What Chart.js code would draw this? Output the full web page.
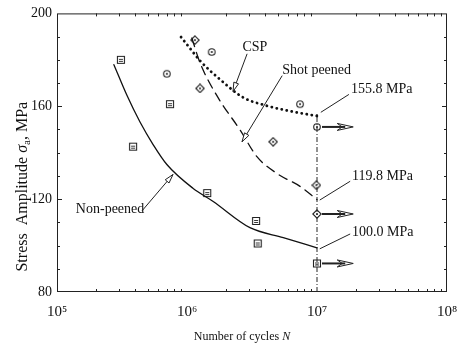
<!DOCTYPE html>
<html>
<head>
<meta charset="utf-8">
<script src="https://cdn.jsdelivr.net/npm/chart.js@4/dist/chart.umd.min.js"></script>
<style>
  html, body { margin: 0; padding: 0; background: #fff; }
</style>
</head>
<body>
<canvas id="chart" width="469" height="349"></canvas>
<script>
// axis ticks
const xMajor = [1e5, 1e6, 1e7, 1e8];
const xMajorLabels = ['10⁵', '10⁶', '10⁷', '10⁸'];
const yMajor = [80, 120, 160, 200];

// fitted S-N curves
const cspN = [9.0e5, 1.05e6, 1.26e6, 1.8e6, 2.7e6, 4.0e6, 6.2e6, 1.0e7];
const cspS = [189.8, 185.1, 179.6, 171.5, 163.8, 160.4, 157.9, 155.8];
const shotN = [1.09e6, 1.26e6, 1.73e6, 2.56e6, 3.45e6, 4.9e6, 7.4e6, 1.0e7];
const shotS = [189.4, 178.7, 163.8, 149.8, 138.3, 131.1, 125.5, 119.8];
const nonN = [2.74e5, 3.45e5, 4.35e5, 5.5e5, 7.0e5, 1.11e6, 1.58e6, 3.05e6, 5.5e6, 1.0e7];
const nonS = [177.9, 164.7, 153.2, 143.4, 134.9, 124.7, 119.1, 107.7, 103.4, 99.0];

// test points
const nonPtN = [3.1e5, 3.85e5, 7.4e5, 1.43e6, 3.4e6, 3.5e6];
const nonPtS = [180.0, 142.6, 160.9, 122.6, 110.6, 100.9];
const cspPtN = [7.0e5, 1.55e6, 7.4e6];
const cspPtS = [174.0, 183.4, 160.9];
const shotPtN = [1.15e6, 1.26e6, 4.6e6, 9.9e6];
const shotPtS = [188.5, 167.7, 144.7, 126.0];

// run-outs (no failure) at the fatigue limit line
const runoutN = [1e7, 1e7, 1e7];
const runoutS = [151.1, 113.6, 92.3];
const runoutStyle = ['circle', 'diamond', 'square'];
const arrowEndN = 1.9e7;
const limitN = 1e7;
const limitTop = 157.5;

// labels with leader lines: text position, leader start, leader end
const noteText = ['CSP', 'Shot peened', '155.8 MPa', '119.8 MPa', '100.0 MPa', 'Non-peened'];
const noteAt = [[3.33e6, 185.5], [5.4e6, 175.3], [1.83e7, 167.2], [1.86e7, 129.8], [1.86e7, 105.5], [2.56e5, 115.7]];
const noteAlign = ['center', 'left', 'left', 'left', 'left', 'center'];
const leadFrom = [[2.9e6, 182.6], [5.4e6, 173.2], [1.76e7, 165.1], [1.8e7, 127.7], [1.8e7, 105.0], [4.5e5, 114.9]];
const leadTo = [[2.26e6, 166.4], [2.65e6, 144.7], [1.07e7, 157.4], [1.05e7, 119.6], [1.05e7, 98.6], [7.8e5, 130.6]];
const leadArrow = [true, true, false, false, false, true];

const FONT = '"Liberation Serif", "Times New Roman", serif';

function pts(xs, ys) { return xs.map((v, i) => ({ x: v, y: ys[i] })); }

function marker(kind) {
  const c = document.createElement('canvas');
  c.width = 10; c.height = 10;
  const g = c.getContext('2d');
  g.fillStyle = '#fff';
  g.strokeStyle = '#222';
  g.lineWidth = 1.1;
  g.beginPath();
  if (kind === 'circle') {
    g.arc(5, 5, 3.3, 0, Math.PI * 2);
  } else if (kind === 'diamond') {
    g.moveTo(5, 0.8); g.lineTo(9.2, 5); g.lineTo(5, 9.2); g.lineTo(0.8, 5); g.closePath();
  } else {
    g.rect(1.5, 1.5, 7, 7);
  }
  g.fill(); g.stroke();
  g.fillStyle = '#222';
  if (kind === 'square') {
    g.fillRect(3, 4, 4, 0.9);
    g.fillRect(3, 6, 4, 0.9);
  } else {
    g.beginPath(); g.arc(5, 5, 1, 0, Math.PI * 2); g.fill();
  }
  return c;
}

const markers = { circle: marker('circle'), diamond: marker('diamond'), square: marker('square') };

function arrowHead(ctx, x0, y0, x1, y1, len, half) {
  const a = Math.atan2(y1 - y0, x1 - x0);
  const bx = x1 - len * Math.cos(a), by = y1 - len * Math.sin(a);
  const nx = -Math.sin(a) * half, ny = Math.cos(a) * half;
  ctx.beginPath();
  ctx.moveTo(x1, y1);
  ctx.lineTo(bx + nx, by + ny);
  ctx.lineTo(bx - nx, by - ny);
  ctx.closePath();
  ctx.fillStyle = '#fff';
  ctx.fill();
  ctx.stroke();
}

const decor = {
  id: 'decor',
  afterDatasetsDraw(chart) {
    const { ctx, chartArea: a, scales: { x, y } } = chart;
    ctx.save();
    ctx.strokeStyle = '#222';
    ctx.lineWidth = 1;
    // frame
    ctx.strokeRect(a.left + 0.5, a.top + 0.5, a.right - a.left - 1, a.bottom - a.top - 1);
    // inward ticks
    ctx.beginPath();
    for (let e = 5; e < 8; e++) {
      for (let m = 2; m < 10; m++) {
        const px = Math.round(x.getPixelForValue(m * Math.pow(10, e))) + 0.5;
        ctx.moveTo(px, a.bottom); ctx.lineTo(px, a.bottom - 3);
        ctx.moveTo(px, a.top); ctx.lineTo(px, a.top + 3);
      }
    }
    for (let v = 90; v < 200; v += 10) {
      const py = Math.round(y.getPixelForValue(v)) + 0.5;
      const len = yMajor.includes(v) ? 5 : 3;
      ctx.moveTo(a.left, py); ctx.lineTo(a.left + len, py);
      ctx.moveTo(a.right, py); ctx.lineTo(a.right - len, py);
    }
    ctx.stroke();

    // run-out arrows
    runoutN.forEach((n, i) => {
      const x0 = x.getPixelForValue(n) + 5;
      const x1 = x.getPixelForValue(arrowEndN);
      const py = y.getPixelForValue(runoutS[i]);
      ctx.lineWidth = 2;
      ctx.beginPath(); ctx.moveTo(x0, py); ctx.lineTo(x1 - 8, py); ctx.stroke();
      ctx.lineWidth = 1;
      ctx.beginPath();
      ctx.moveTo(x1 - 16, py - 3.5); ctx.lineTo(x1, py); ctx.lineTo(x1 - 16, py + 3.5);
      ctx.lineTo(x1 - 11, py); ctx.closePath();
      ctx.stroke();
    });

    // labels and leader lines
    ctx.font = '14px ' + FONT;
    ctx.textBaseline = 'middle';
    noteText.forEach((t, i) => {
      ctx.textAlign = noteAlign[i];
      ctx.fillStyle = '#111';
      ctx.fillText(t, x.getPixelForValue(noteAt[i][0]), y.getPixelForValue(noteAt[i][1]));
      const fx = x.getPixelForValue(leadFrom[i][0]), fy = y.getPixelForValue(leadFrom[i][1]);
      const tx = x.getPixelForValue(leadTo[i][0]), ty = y.getPixelForValue(leadTo[i][1]);
      ctx.lineWidth = 1;
      ctx.beginPath(); ctx.moveTo(fx, fy); ctx.lineTo(tx, ty); ctx.stroke();
      if (leadArrow[i]) arrowHead(ctx, fx, fy, tx, ty, 9, 2.5);
    });

    // axis titles
    ctx.fillStyle = '#111';
    ctx.textAlign = 'left';
    ctx.textBaseline = 'middle';
    // x title, with italic N
    const xa = 'Number of cycles ';
    ctx.font = '12px ' + FONT;
    const wa = ctx.measureText(xa).width;
    ctx.font = 'italic 12px ' + FONT;
    const wb = ctx.measureText('N').width;
    const xStart = (a.left + a.right) / 2 - 10 - (wa + wb) / 2;
    ctx.font = '12px ' + FONT;
    ctx.fillText(xa, xStart, 337);
    ctx.font = 'italic 12px ' + FONT;
    ctx.fillText('N', xStart + wa, 337);
    // y title, rotated
    ctx.save();
    ctx.translate(23, (a.top + a.bottom) / 2 + 34);
    ctx.rotate(-Math.PI / 2);
    const p1 = 'Stress  Amplitude ', p3 = ', MPa';
    ctx.font = '16px ' + FONT;
    const w1 = ctx.measureText(p1).width, w3 = ctx.measureText(p3).width;
    ctx.font = 'italic 16px ' + FONT;
    const w2 = ctx.measureText('σ').width;
    ctx.font = '11px ' + FONT;
    const w2b = ctx.measureText('a').width;
    let cx = -(w1 + w2 + w2b + w3) / 2;
    ctx.font = '16px ' + FONT; ctx.fillText(p1, cx, 0); cx += w1;
    ctx.font = 'italic 16px ' + FONT; ctx.fillText('σ', cx, 0); cx += w2;
    ctx.font = '11px ' + FONT; ctx.fillText('a', cx, 4); cx += w2b;
    ctx.font = '16px ' + FONT; ctx.fillText(p3, cx, 0);
    ctx.restore();

    ctx.restore();
  }
};

function pointSet(xs, ys, kind) {
  return {
    data: pts(xs, ys), showLine: false,
    pointStyle: markers[kind], pointRadius: 5, pointHoverRadius: 5
  };
}

function curve(xs, ys, dash, width) {
  return {
    data: pts(xs, ys), showLine: true, pointRadius: 0,
    borderColor: '#111', borderWidth: width, borderDash: dash,
    borderCapStyle: 'round', cubicInterpolationMode: 'monotone', fill: false
  };
}

new Chart(document.getElementById('chart'), {
  type: 'scatter',
  data: {
    datasets: [
      curve(nonN, nonS, [], 1.3),
      curve(shotN, shotS, [9, 6], 1.3),
      curve(cspN, cspS, [0.1, 5], 2.8),
      {
        data: [{ x: limitN, y: 80 }, { x: limitN, y: limitTop }], showLine: true, pointRadius: 0,
        borderColor: '#222', borderWidth: 1, borderDash: [5, 2, 1, 2]
      },
      pointSet(nonPtN, nonPtS, 'square'),
      pointSet(cspPtN, cspPtS, 'circle'),
      pointSet(shotPtN, shotPtS, 'diamond'),
      {
        data: pts(runoutN, runoutS), showLine: false, pointRadius: 5,
        pointStyle: runoutStyle.map(k => markers[k])
      }
    ]
  },
  options: {
    responsive: false,
    animation: false,
    devicePixelRatio: 1,
    layout: { padding: { left: 0, right: 22, top: 10, bottom: 0 } },
    plugins: { legend: { display: false }, tooltip: { enabled: false } },
    scales: {
      x: {
        type: 'logarithmic', min: 1e5, max: 1e8,
        grid: { display: false, drawTicks: false },
        border: { display: false },
        afterFit: s => { s.height = 57; },
        afterBuildTicks: s => { s.ticks = xMajor.map(v => ({ value: v })); },
        ticks: {
          autoSkip: false, maxRotation: 0, padding: 11, color: '#111',
          font: { family: FONT, size: 15 },
          callback: v => { const i = xMajor.indexOf(v); return i < 0 ? '' : xMajorLabels[i]; }
        }
      },
      y: {
        min: 80, max: 200,
        grid: { display: false, drawTicks: false },
        border: { display: false },
        afterFit: s => { s.width = 57; },
        afterBuildTicks: s => { s.ticks = yMajor.map(v => ({ value: v })); },
        ticks: { padding: 5, color: '#111', font: { family: FONT, size: 14 } }
      }
    }
  },
  plugins: [decor]
});
</script>
</body>
</html>
